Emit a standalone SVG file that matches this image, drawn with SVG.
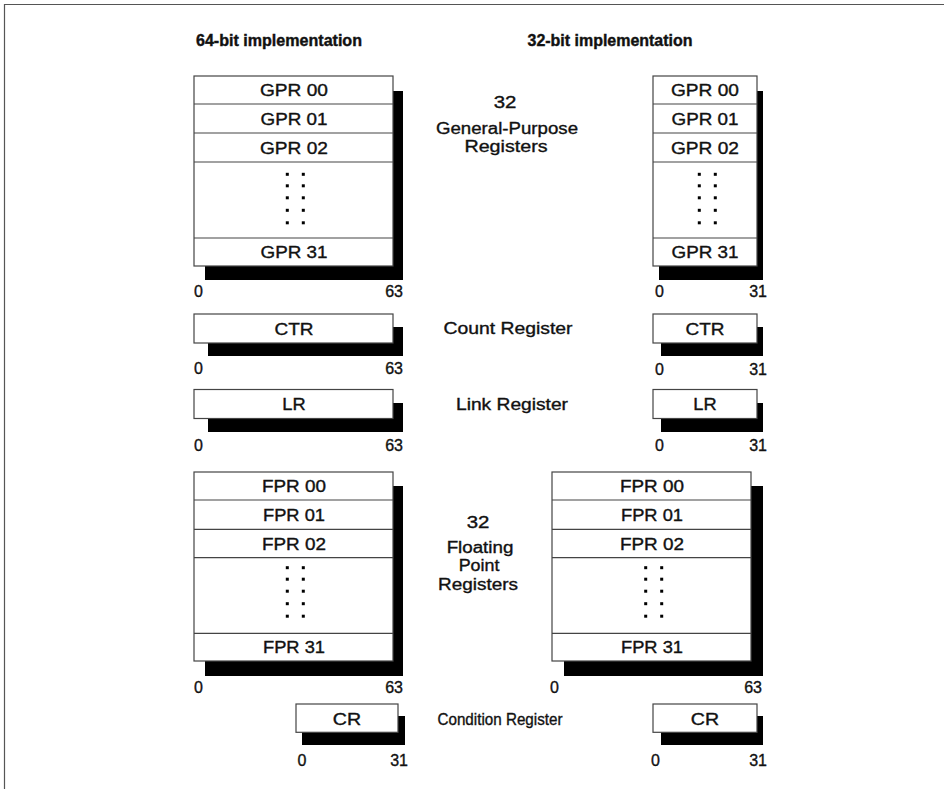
<svg xmlns="http://www.w3.org/2000/svg" width="944" height="789" viewBox="0 0 944 789">
<style>
.bg{fill:#fff}
.frame{stroke:#555;stroke-width:1.2;fill:none}
.box{fill:#fff;stroke:#444;stroke-width:1.2}
.sh{fill:#000}
.div{stroke:#444;stroke-width:1.2}
.t{font-family:"Liberation Sans",Arial,Helvetica,sans-serif;font-size:16px;fill:#111;stroke:#111;stroke-width:0.35}
.m{text-anchor:middle}
.e{text-anchor:end}
.h{font-family:"Liberation Sans",Arial,Helvetica,sans-serif;font-size:16px;font-weight:bold;fill:#111;stroke:#111;stroke-width:0.4;text-anchor:middle}
.dot{fill:#000}
</style>
<defs>
<g id="dots">
<rect x="-1.5" y="-1.5" width="3" height="3"/><rect x="14.5" y="-1.5" width="3" height="3"/>
<rect x="-1.5" y="10" width="3" height="3"/><rect x="14.5" y="10" width="3" height="3"/>
<rect x="-1.5" y="22" width="3" height="3"/><rect x="14.5" y="22" width="3" height="3"/>
<rect x="-1.5" y="34.5" width="3" height="3"/><rect x="14.5" y="34.5" width="3" height="3"/>
<rect x="-1.5" y="47" width="3" height="3"/><rect x="14.5" y="47" width="3" height="3"/>
</g>
</defs>
<rect class="bg" x="0" y="0" width="944" height="789"/>
<path class="frame" d="M4.5,789 V4.5 H944"/>

<g id="headers">
<text class="h" x="279" y="46" textLength="166" lengthAdjust="spacingAndGlyphs">64-bit implementation</text>
<text class="h" x="610" y="46" textLength="165" lengthAdjust="spacingAndGlyphs">32-bit implementation</text>
</g>

<g id="connectors"/>

<!-- GPR 64-bit -->
<g id="gpr64">
<rect class="sh" x="205" y="91" width="198" height="189"/>
<rect class="box" x="194" y="76" width="199" height="190"/>
<line class="div" x1="194" y1="104" x2="393" y2="104"/>
<line class="div" x1="194" y1="133" x2="393" y2="133"/>
<line class="div" x1="194" y1="162" x2="393" y2="162"/>
<line class="div" x1="194" y1="238" x2="393" y2="238"/>
<text class="t m" x="294" y="96" textLength="68" lengthAdjust="spacingAndGlyphs">GPR 00</text>
<text class="t m" x="294" y="124.5" textLength="67" lengthAdjust="spacingAndGlyphs">GPR 01</text>
<text class="t m" x="294" y="153.5" textLength="68" lengthAdjust="spacingAndGlyphs">GPR 02</text>
<use href="#dots" class="dot" x="287.3" y="174.3"/>
<text class="t m" x="294" y="258" textLength="67" lengthAdjust="spacingAndGlyphs">GPR 31</text>
<text class="t" x="194" y="297">0</text>
<text class="t e" x="403" y="297">63</text>
</g>

<!-- GPR 32-bit -->
<g id="gpr32">
<rect class="sh" x="659" y="91" width="104" height="189"/>
<rect class="box" x="653" y="76" width="104" height="190"/>
<line class="div" x1="653" y1="104" x2="757" y2="104"/>
<line class="div" x1="653" y1="133" x2="757" y2="133"/>
<line class="div" x1="653" y1="162" x2="757" y2="162"/>
<line class="div" x1="653" y1="238" x2="757" y2="238"/>
<text class="t m" x="705" y="96" textLength="68" lengthAdjust="spacingAndGlyphs">GPR 00</text>
<text class="t m" x="705" y="124.5" textLength="67" lengthAdjust="spacingAndGlyphs">GPR 01</text>
<text class="t m" x="705" y="153.5" textLength="68" lengthAdjust="spacingAndGlyphs">GPR 02</text>
<use href="#dots" class="dot" x="699.3" y="174.3"/>
<text class="t m" x="705" y="258" textLength="67" lengthAdjust="spacingAndGlyphs">GPR 31</text>
<text class="t" x="655" y="297">0</text>
<text class="t e" x="767" y="297">31</text>
</g>

<g id="gpr-label">
<text class="t m" x="505" y="108" textLength="22.7" lengthAdjust="spacingAndGlyphs">32</text>
<text class="t m" x="507" y="134" textLength="142" lengthAdjust="spacingAndGlyphs">General-Purpose</text>
<text class="t m" x="506" y="152" textLength="83" lengthAdjust="spacingAndGlyphs">Registers</text>
</g>

<!-- CTR -->
<g id="ctr64">
<rect class="sh" x="208" y="327" width="195" height="29"/>
<rect class="box" x="194" y="314" width="199" height="29"/>
<text class="t m" x="294" y="334.5" textLength="39" lengthAdjust="spacingAndGlyphs">CTR</text>
<text class="t" x="194" y="374">0</text>
<text class="t e" x="403" y="374">63</text>
</g>
<g id="ctr-label">
<text class="t m" x="508" y="334" textLength="129" lengthAdjust="spacingAndGlyphs">Count Register</text>
</g>
<g id="ctr32">
<rect class="sh" x="661" y="327" width="102" height="29"/>
<rect class="box" x="653" y="314" width="104" height="29"/>
<text class="t m" x="705" y="334.5" textLength="39" lengthAdjust="spacingAndGlyphs">CTR</text>
<text class="t" x="655" y="375">0</text>
<text class="t e" x="767" y="375">31</text>
</g>

<!-- LR -->
<g id="lr64">
<rect class="sh" x="208" y="403" width="195" height="29"/>
<rect class="box" x="194" y="389.5" width="199" height="29"/>
<text class="t m" x="294" y="410" textLength="23.3" lengthAdjust="spacingAndGlyphs">LR</text>
<text class="t" x="194" y="451">0</text>
<text class="t e" x="403" y="451">63</text>
</g>
<g id="lr-label">
<text class="t m" x="512" y="410" textLength="112" lengthAdjust="spacingAndGlyphs">Link Register</text>
</g>
<g id="lr32">
<rect class="sh" x="661" y="403" width="102" height="29"/>
<rect class="box" x="653" y="389.5" width="104" height="29"/>
<text class="t m" x="705" y="410" textLength="23.3" lengthAdjust="spacingAndGlyphs">LR</text>
<text class="t" x="655" y="451">0</text>
<text class="t e" x="767" y="451">31</text>
</g>

<!-- FPR 64-bit -->
<g id="fpr64">
<rect class="sh" x="205" y="486" width="198" height="190"/>
<rect class="box" x="194" y="472" width="199" height="189"/>
<line class="div" x1="194" y1="500" x2="393" y2="500"/>
<line class="div" x1="194" y1="529.3" x2="393" y2="529.3"/>
<line class="div" x1="194" y1="557.7" x2="393" y2="557.7"/>
<line class="div" x1="194" y1="633.3" x2="393" y2="633.3"/>
<text class="t m" x="294" y="492.3" textLength="64" lengthAdjust="spacingAndGlyphs">FPR 00</text>
<text class="t m" x="294" y="521" textLength="62" lengthAdjust="spacingAndGlyphs">FPR 01</text>
<text class="t m" x="294" y="549.5" textLength="64" lengthAdjust="spacingAndGlyphs">FPR 02</text>
<use href="#dots" class="dot" x="287.3" y="567.7"/>
<text class="t m" x="294" y="653" textLength="62" lengthAdjust="spacingAndGlyphs">FPR 31</text>
<text class="t" x="194" y="693">0</text>
<text class="t e" x="403" y="693">63</text>
</g>

<g id="fpr-label">
<text class="t m" x="478" y="528" textLength="22.7" lengthAdjust="spacingAndGlyphs">32</text>
<text class="t m" x="480" y="553.3" textLength="66.7" lengthAdjust="spacingAndGlyphs">Floating</text>
<text class="t m" x="479" y="571" textLength="40.7" lengthAdjust="spacingAndGlyphs">Point</text>
<text class="t m" x="478" y="590" textLength="80" lengthAdjust="spacingAndGlyphs">Registers</text>
</g>

<!-- FPR 32-bit -->
<g id="fpr32">
<rect class="sh" x="564" y="486" width="199" height="190"/>
<rect class="box" x="552" y="472" width="199" height="189"/>
<line class="div" x1="552" y1="500" x2="751" y2="500"/>
<line class="div" x1="552" y1="529.3" x2="751" y2="529.3"/>
<line class="div" x1="552" y1="557.7" x2="751" y2="557.7"/>
<line class="div" x1="552" y1="633.3" x2="751" y2="633.3"/>
<text class="t m" x="652" y="492.3" textLength="64" lengthAdjust="spacingAndGlyphs">FPR 00</text>
<text class="t m" x="652" y="521" textLength="62" lengthAdjust="spacingAndGlyphs">FPR 01</text>
<text class="t m" x="652" y="549.5" textLength="64" lengthAdjust="spacingAndGlyphs">FPR 02</text>
<use href="#dots" class="dot" x="645.7" y="567.7"/>
<text class="t m" x="652" y="653" textLength="62" lengthAdjust="spacingAndGlyphs">FPR 31</text>
<text class="t" x="550" y="693">0</text>
<text class="t e" x="762" y="693">63</text>
</g>

<!-- CR -->
<g id="cr64">
<rect class="sh" x="302" y="716" width="103" height="29"/>
<rect class="box" x="296" y="704" width="102" height="28.3"/>
<text class="t m" x="347" y="724.5" textLength="28.3" lengthAdjust="spacingAndGlyphs">CR</text>
<text class="t" x="297.5" y="766">0</text>
<text class="t e" x="408" y="766">31</text>
</g>
<g id="cr-label">
<text class="t m" x="500" y="725" textLength="125" lengthAdjust="spacingAndGlyphs">Condition Register</text>
</g>
<g id="cr32">
<rect class="sh" x="661" y="716" width="102" height="29"/>
<rect class="box" x="653" y="704" width="104" height="28.3"/>
<text class="t m" x="705" y="724.5" textLength="28.3" lengthAdjust="spacingAndGlyphs">CR</text>
<text class="t" x="651" y="766">0</text>
<text class="t e" x="767" y="766">31</text>
</g>
</svg>
